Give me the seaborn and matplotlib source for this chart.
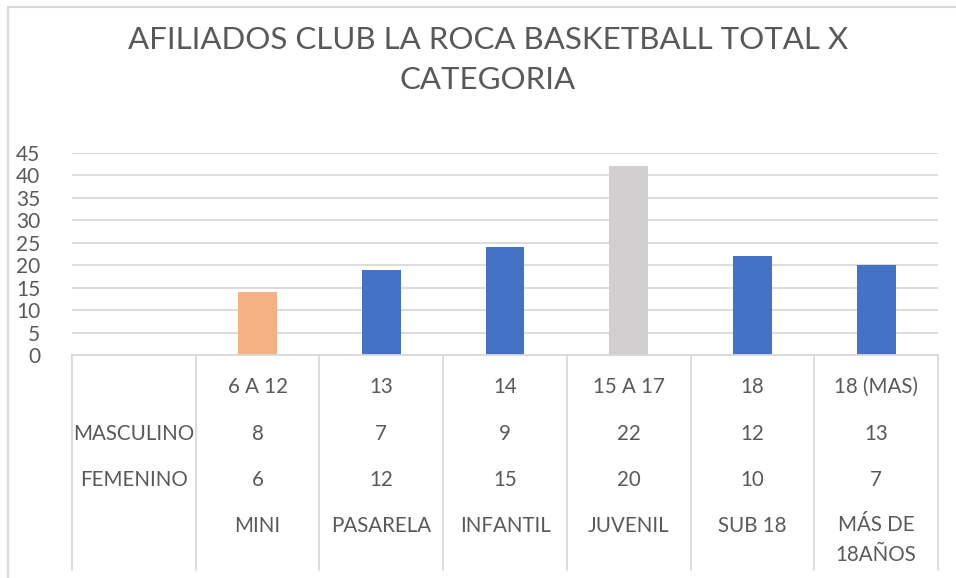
import matplotlib
matplotlib.use("Agg")
import matplotlib.pyplot as plt
import matplotlib.transforms as mtransforms
from matplotlib.lines import Line2D
import seaborn as sns

# data
categorias = ["MINI", "PASARELA", "INFANTIL", "JUVENIL", "SUB 18", "MÁS DE\n18AÑOS"]
edades = ["6 A 12", "13", "14", "15 A 17", "18", "18 (MAS)"]
masculino = [8, 7, 9, 22, 12, 13]
femenino = [6, 12, 15, 20, 10, 7]
totales = [14, 19, 24, 42, 22, 20]
colores = ["#F4B183", "#4472C4", "#4472C4", "#D0CECE", "#4472C4", "#4472C4"]

sns.set_theme(style="white")
plt.rcParams["font.family"] = ["Lato", "DejaVu Sans"]

W, H = 956, 578
fig = plt.figure(figsize=(W / 100, H / 100), dpi=100)
ax = fig.add_axes([72 / W, 1 - 355 / H, 866 / W, 202 / H])

sns.barplot(x=categorias, y=totales, hue=categorias, palette=colores,
            width=0.315, legend=False, saturation=1, linewidth=0, ax=ax)

grid_c = "#D9D9D9"
text_c = "#595959"

ax.set_xlim(-1.5, len(categorias) - 0.5)
ax.set_ylim(0, 45)
ax.set_yticks(range(0, 46, 5))
ax.yaxis.grid(True, color=grid_c, linewidth=1.3)
ax.set_axisbelow(True)
ax.tick_params(axis="y", length=0, pad=23, labelsize=15, labelcolor=text_c)
ax.set_xticks([])
ax.set_xlabel("")
ax.set_ylabel("")
for side in ["left", "right", "top"]:
    ax.spines[side].set_visible(False)
ax.spines["bottom"].set_color(grid_c)
ax.spines["bottom"].set_linewidth(1.3)

# data table under the axis
trans = mtransforms.blended_transform_factory(ax.transData, fig.transFigure)
y_bottom = 1 - 570 / H
for xv in [i - 0.5 for i in range(-1, len(categorias) + 1)]:
    fig.add_artist(Line2D([xv, xv], [1 - 355 / H, y_bottom], transform=trans,
                          color=grid_c, linewidth=1.3))

rows = [("", edades, 387), ("MASCULINO", masculino, 434),
        ("FEMENINO", femenino, 480), ("", categorias, 526)]
for label, vals, ypx in rows:
    yf = 1 - ypx / H
    if label:
        fig.text(-1, yf, label, transform=trans, ha="center", va="center",
                 fontsize=14.8, color=text_c)
    for i, v in enumerate(vals):
        multi = "\n" in str(v)
        fig.text(i, 1 - (ypx - 11) / H if multi else yf, str(v), transform=trans,
                 ha="center", va="top" if multi else "center",
                 fontsize=14.8, color=text_c, linespacing=1.6)

# chart title
fig.text(488 / W, 1 - 60 / H, "AFILIADOS CLUB LA ROCA BASKETBALL TOTAL X\nCATEGORIA",
         ha="center", va="center", fontsize=22.5, color=text_c, linespacing=1.55)

# chart border
fig.add_artist(Line2D([8 / W, 8 / W], [0, 1 - 7 / H], transform=fig.transFigure,
                      color=grid_c, linewidth=1.5))
fig.add_artist(Line2D([8 / W, 1], [1 - 7 / H, 1 - 7 / H], transform=fig.transFigure,
                      color=grid_c, linewidth=1.5))

fig.savefig("out.png", dpi=100, facecolor="white")
